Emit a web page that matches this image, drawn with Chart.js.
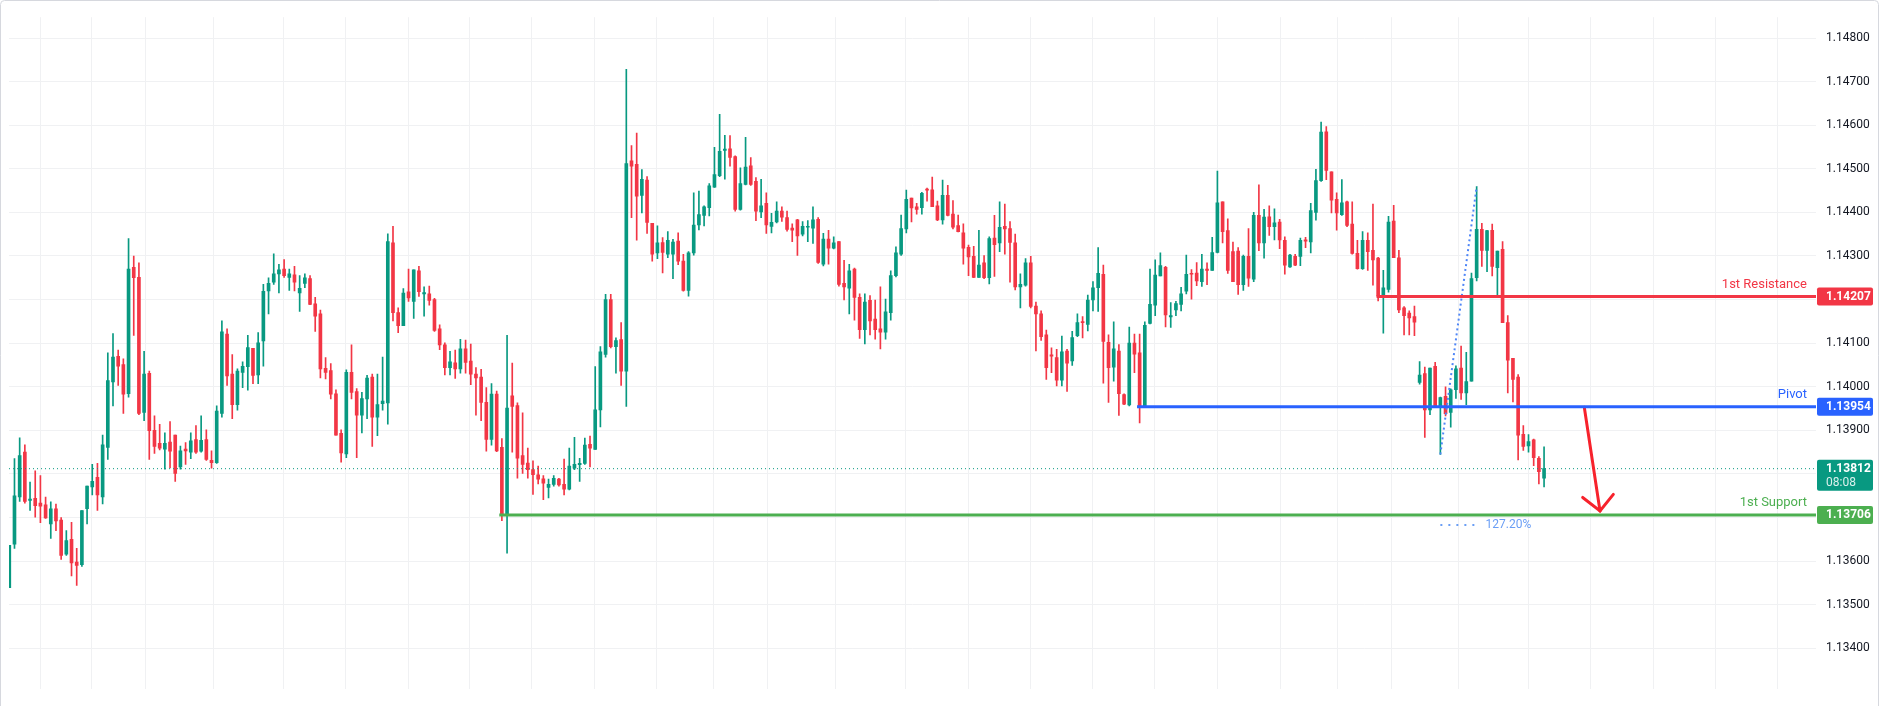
<!DOCTYPE html>
<html><head><meta charset="utf-8">
<script src="https://cdn.jsdelivr.net/npm/chart.js@4.4.1/dist/chart.umd.min.js"></script>
<style>html,body{margin:0;padding:0;background:#fff;overflow:hidden}canvas{display:block}</style>
</head><body><canvas id="c" width="1879" height="706"></canvas>
<script>
// ---- candle data (EUR/USD) ----
const opens=[1.13539,1.13639,1.13747,1.13850,1.13739,1.13744,1.13733,1.13729,1.13685,1.13720,
1.13694,1.13616,1.13650,1.13598,1.13592,1.13720,1.13770,1.13792,1.13747,1.13861,
1.14011,1.14070,1.14051,1.13984,1.14274,1.14251,1.13941,1.14031,1.13900,1.13870,
1.13857,1.13873,1.13889,1.13816,1.13857,1.13850,1.13879,1.13852,1.13879,1.13831,
1.13826,1.13939,1.14121,1.14029,1.13959,1.14033,1.14046,1.14088,1.14027,1.14105,
1.14220,1.14240,1.14259,1.14270,1.14251,1.14257,1.14215,1.14237,1.14248,1.14190,
1.14167,1.14042,1.14037,1.13984,1.13893,1.13846,1.14033,1.13989,1.13935,1.13972,
1.14022,1.13930,1.13961,1.13963,1.14330,1.14170,1.14140,1.14218,1.14196,1.14266,
1.14213,1.14213,1.14200,1.14133,1.14096,1.14044,1.14055,1.14041,1.14087,1.14059,
1.14029,1.14022,1.13964,1.13879,1.13983,1.13861,1.13705,1.13979,1.13957,1.13842,
1.13825,1.13810,1.13798,1.13789,1.13769,1.13776,1.13788,1.13776,1.13765,1.13813,
1.13821,1.13824,1.13868,1.13856,1.13947,1.14074,1.14200,1.14092,1.14108,1.14036,
1.14518,1.14510,1.14439,1.14474,1.14375,1.14307,1.14331,1.14304,1.14304,1.14334,
1.14288,1.14221,1.14307,1.14371,1.14393,1.14411,1.14458,1.14484,1.14542,1.14546,
1.14528,1.14407,1.14464,1.14507,1.14471,1.14401,1.14421,1.14368,1.14378,1.14403,
1.14388,1.14364,1.14383,1.14350,1.14366,1.14364,1.14384,1.14281,1.14339,1.14318,
1.14333,1.14237,1.14226,1.14270,1.14205,1.14131,1.14198,1.14155,1.14133,1.14125,
1.14170,1.14255,1.14304,1.14362,1.14433,1.14413,1.14411,1.14453,1.14452,1.14415,
1.14383,1.14439,1.14396,1.14370,1.14353,1.14320,1.14299,1.14251,1.14284,1.14250,
1.14341,1.14330,1.14368,1.14363,1.14330,1.14229,1.14233,1.14284,1.14185,1.14167,
1.14119,1.14073,1.14067,1.14015,1.14082,1.14059,1.14117,1.14149,1.14143,1.14199,
1.14227,1.14258,1.14102,1.14045,1.14082,1.13982,1.13958,1.14100,1.14078,1.13953,
1.14145,1.14187,1.14254,1.14274,1.14160,1.14176,1.14189,1.14219,1.14260,1.14261,
1.14241,1.14270,1.14267,1.14308,1.14424,1.14358,1.14310,1.14311,1.14234,1.14299,
1.14247,1.14393,1.14330,1.14390,1.14367,1.14378,1.14336,1.14275,1.14299,1.14299,
1.14337,1.14332,1.14400,1.14473,1.14585,1.14493,1.14430,1.14395,1.14424,1.14373,
1.14306,1.14271,1.14336,1.14313,1.14295,1.14208,1.14223,1.14380,1.14296,1.14181,
1.14169,1.14161,1.14010,1.14030,1.13947,1.14047,1.13954,1.13978,1.13941,1.13993,
1.14043,1.13986,1.14013,1.14250,1.14361,1.14313,1.14359,1.14273,1.14315,1.14147,
1.14065,1.14022,1.13891,1.13864,1.13878,1.13836,1.13790];
const highs=[1.13636,1.13835,1.13883,1.13867,1.13781,1.13807,1.13796,1.13747,1.13736,1.13731,
1.13700,1.13670,1.13689,1.13629,1.13716,1.13772,1.13822,1.13824,1.13889,1.14078,
1.14122,1.14084,1.14064,1.14340,1.14300,1.14284,1.14081,1.14036,1.13933,1.13914,
1.13894,1.13920,1.13889,1.13864,1.13872,1.13894,1.13911,1.13933,1.13901,1.13853,
1.13956,1.14151,1.14133,1.14074,1.14041,1.14057,1.14118,1.14088,1.14124,1.14235,
1.14250,1.14305,1.14281,1.14292,1.14270,1.14276,1.14255,1.14259,1.14255,1.14205,
1.14176,1.14067,1.14053,1.13993,1.13901,1.14039,1.14096,1.13996,1.13987,1.14026,
1.14029,1.14029,1.14068,1.14351,1.14368,1.14181,1.14225,1.14270,1.14268,1.14276,
1.14229,1.14231,1.14203,1.14142,1.14101,1.14081,1.14084,1.14109,1.14107,1.14098,
1.14044,1.14040,1.13998,1.14007,1.13990,1.13881,1.14118,1.14054,1.13963,1.13940,
1.13859,1.13830,1.13818,1.13796,1.13788,1.13796,1.13790,1.13834,1.13859,1.13884,
1.13836,1.13882,1.13887,1.14046,1.14092,1.14212,1.14212,1.14112,1.14147,1.14728,
1.14553,1.14582,1.14498,1.14482,1.14375,1.14369,1.14342,1.14356,1.14338,1.14353,
1.14304,1.14310,1.14445,1.14449,1.14415,1.14466,1.14549,1.14625,1.14577,1.14576,
1.14530,1.14502,1.14572,1.14526,1.14480,1.14476,1.14445,1.14398,1.14424,1.14413,
1.14403,1.14374,1.14384,1.14379,1.14381,1.14413,1.14388,1.14352,1.14359,1.14344,
1.14333,1.14290,1.14281,1.14272,1.14213,1.14213,1.14209,1.14199,1.14229,1.14201,
1.14266,1.14321,1.14394,1.14451,1.14433,1.14421,1.14446,1.14456,1.14481,1.14426,
1.14474,1.14462,1.14427,1.14394,1.14374,1.14325,1.14322,1.14359,1.14301,1.14344,
1.14393,1.14424,1.14419,1.14379,1.14350,1.14259,1.14294,1.14299,1.14194,1.14174,
1.14130,1.14089,1.14086,1.14116,1.14086,1.14127,1.14167,1.14161,1.14210,1.14241,
1.14319,1.14279,1.14119,1.14149,1.14097,1.13984,1.14137,1.14121,1.14121,1.14149,
1.14270,1.14291,1.14307,1.14276,1.14193,1.14196,1.14228,1.14302,1.14269,1.14285,
1.14304,1.14284,1.14343,1.14495,1.14424,1.14385,1.14332,1.14319,1.14302,1.14363,
1.14400,1.14463,1.14407,1.14415,1.14408,1.14384,1.14344,1.14304,1.14304,1.14341,
1.14343,1.14421,1.14499,1.14607,1.14597,1.14493,1.14445,1.14475,1.14426,1.14424,
1.14336,1.14356,1.14353,1.14419,1.14297,1.14267,1.14391,1.14416,1.14313,1.14184,
1.14174,1.14185,1.14058,1.14045,1.14043,1.14056,1.13976,1.14000,1.13995,1.14048,
1.14093,1.14079,1.14261,1.14459,1.14375,1.14359,1.14373,1.14311,1.14333,1.14163,
1.14065,1.14028,1.13911,1.13890,1.13880,1.13840,1.13862];
const lows=[1.13539,1.13629,1.13737,1.13733,1.13716,1.13701,1.13688,1.13698,1.13652,1.13670,
1.13604,1.13613,1.13566,1.13544,1.13588,1.13685,1.13752,1.13716,1.13731,1.13833,
1.13956,1.14003,1.13939,1.13976,1.14118,1.13936,1.13922,1.13833,1.13847,1.13855,
1.13811,1.13814,1.13783,1.13811,1.13822,1.13835,1.13847,1.13850,1.13831,1.13813,
1.13824,1.13930,1.14003,1.13927,1.13946,1.13998,1.13992,1.14007,1.14007,1.14047,
1.14167,1.14235,1.14215,1.14251,1.14221,1.14220,1.14173,1.14227,1.14188,1.14127,
1.14020,1.14018,1.13972,1.13889,1.13827,1.13837,1.13972,1.13837,1.13894,1.13927,
1.13863,1.13888,1.13946,1.13914,1.14151,1.14124,1.14140,1.14196,1.14157,1.14207,
1.14162,1.14187,1.14127,1.14085,1.14027,1.14027,1.14019,1.14031,1.14031,1.14005,
1.13935,1.13922,1.13852,1.13866,1.13851,1.13693,1.13618,1.13850,1.13790,1.13801,
1.13790,1.13753,1.13777,1.13741,1.13745,1.13772,1.13772,1.13752,1.13763,1.13810,
1.13783,1.13822,1.13816,1.13856,1.13908,1.14068,1.14089,1.14031,1.14003,1.13955,
1.14388,1.14336,1.14399,1.14352,1.14288,1.14294,1.14261,1.14296,1.14248,1.14280,
1.14219,1.14208,1.14302,1.14360,1.14369,1.14392,1.14457,1.14482,1.14476,1.14506,
1.14403,1.14405,1.14463,1.14462,1.14381,1.14388,1.14352,1.14353,1.14376,1.14379,
1.14357,1.14333,1.14301,1.14346,1.14333,1.14329,1.14283,1.14277,1.14281,1.14316,
1.14231,1.14199,1.14167,1.14153,1.14111,1.14098,1.14119,1.14109,1.14087,1.14109,
1.14153,1.14252,1.14301,1.14353,1.14378,1.14396,1.14396,1.14426,1.14413,1.14381,
1.14373,1.14392,1.14362,1.14355,1.14281,1.14255,1.14250,1.14251,1.14248,1.14236,
1.14253,1.14310,1.14304,1.14240,1.14222,1.14181,1.14231,1.14181,1.14082,1.14106,
1.14017,1.14032,1.14002,1.14002,1.13989,1.14049,1.14115,1.14112,1.14128,1.14174,
1.14173,1.14008,1.13964,1.14013,1.13934,1.13959,1.13956,1.14032,1.13917,1.13953,
1.14144,1.14163,1.14254,1.14137,1.14136,1.14163,1.14174,1.14213,1.14201,1.14232,
1.14230,1.14234,1.14267,1.14307,1.14330,1.14260,1.14241,1.14212,1.14221,1.14230,
1.14241,1.14312,1.14295,1.14347,1.14337,1.14317,1.14258,1.14274,1.14278,1.14278,
1.14319,1.14307,1.14382,1.14471,1.14475,1.14399,1.14359,1.14393,1.14367,1.14304,
1.14270,1.14269,1.14267,1.14233,1.14197,1.14123,1.14217,1.14296,1.14170,1.14119,
1.14119,1.14117,1.14006,1.13884,1.13936,1.13952,1.13845,1.13933,1.13907,1.13973,
1.13971,1.13959,1.14013,1.14243,1.14276,1.14264,1.14254,1.14208,1.14147,1.13986,
1.13965,1.13832,1.13854,1.13850,1.13819,1.13777,1.13770];
const closes=[1.13636,1.13750,1.13842,1.13737,1.13742,1.13727,1.13726,1.13699,1.13720,1.13692,
1.13613,1.13647,1.13596,1.13590,1.13716,1.13772,1.13783,1.13752,1.13867,1.14014,
1.14068,1.14047,1.13983,1.14270,1.14250,1.13939,1.14029,1.13899,1.13863,1.13859,
1.13870,1.13852,1.13801,1.13853,1.13853,1.13876,1.13850,1.13877,1.13833,1.13826,
1.13944,1.14126,1.14025,1.13959,1.14036,1.14047,1.14090,1.14026,1.14101,1.14219,
1.14237,1.14259,1.14268,1.14255,1.14259,1.14240,1.14226,1.14250,1.14189,1.14162,
1.14041,1.14033,1.13983,1.13889,1.13848,1.14033,1.13987,1.13935,1.13973,1.14020,
1.13930,1.13959,1.13967,1.14333,1.14170,1.14140,1.14215,1.14204,1.14268,1.14218,
1.14216,1.14198,1.14129,1.14096,1.14044,1.14057,1.14041,1.14087,1.14056,1.14029,
1.14020,1.13964,1.13879,1.13983,1.13853,1.13705,1.13951,1.13955,1.13836,1.13822,
1.13810,1.13798,1.13788,1.13779,1.13776,1.13790,1.13775,1.13765,1.13818,1.13822,
1.13824,1.13866,1.13859,1.13947,1.14080,1.14200,1.14092,1.14106,1.14036,1.14512,
1.14506,1.14437,1.14476,1.14377,1.14304,1.14330,1.14308,1.14336,1.14332,1.14288,
1.14221,1.14307,1.14371,1.14395,1.14413,1.14461,1.14487,1.14540,1.14545,1.14526,
1.14407,1.14466,1.14504,1.14464,1.14403,1.14415,1.14371,1.14377,1.14403,1.14389,
1.14361,1.14359,1.14346,1.14368,1.14368,1.14383,1.14285,1.14339,1.14318,1.14330,
1.14235,1.14229,1.14266,1.14205,1.14131,1.14194,1.14151,1.14131,1.14125,1.14172,
1.14255,1.14307,1.14363,1.14430,1.14410,1.14407,1.14444,1.14451,1.14413,1.14383,
1.14439,1.14393,1.14366,1.14356,1.14318,1.14298,1.14251,1.14279,1.14250,1.14340,
1.14326,1.14366,1.14362,1.14331,1.14229,1.14235,1.14284,1.14184,1.14167,1.14115,
1.14044,1.14070,1.14015,1.14080,1.14054,1.14113,1.14147,1.14147,1.14199,1.14227,
1.14260,1.14104,1.14044,1.14087,1.13984,1.13960,1.14100,1.14075,1.13953,1.14141,
1.14189,1.14256,1.14278,1.14165,1.14163,1.14191,1.14213,1.14258,1.14258,1.14243,
1.14270,1.14267,1.14308,1.14422,1.14356,1.14267,1.14241,1.14234,1.14299,1.14249,
1.14393,1.14330,1.14389,1.14367,1.14376,1.14337,1.14279,1.14302,1.14279,1.14336,
1.14334,1.14404,1.14473,1.14584,1.14496,1.14428,1.14399,1.14422,1.14370,1.14306,
1.14271,1.14336,1.14310,1.14291,1.14208,1.14227,1.14378,1.14296,1.14176,1.14163,
1.14158,1.14148,1.14027,1.13947,1.14043,1.13954,1.13975,1.13938,1.13993,1.14041,
1.13986,1.14012,1.14248,1.14361,1.14313,1.14358,1.14276,1.14311,1.14147,1.14061,
1.14017,1.13889,1.13863,1.13874,1.13837,1.13805,1.13812];

// ---- axis / annotation values ----
const priceTicks=[1.134,1.135,1.136,1.137,1.138,1.139,1.140,1.141,1.142,1.143,1.144,1.145,1.146,1.147,1.148];
const timeGrid=[11.9,21.8,32.8,47.9,59.8,71.9,83.9,95.8,107.8,119.9,131.8,141.7,152.7,167.8,180.0,191.9,204.0,216.0,227.9,240.0,252.2,262.1,273.1,288.0,300.0,312.0,324.1,336.1,348.1];
const levelNames=['1st Resistance','Pivot','1st Support'];
const levelValues=[1.14207,1.13954,1.13706];
const levelStarts=[264.7,218.5,95.5];
const levelColors=['#F23645','#2962FF','#4CAF50'];
const lastPrice=1.13812;
const countdown='08:08';
const fibX=[277,284];
const fibY=[1.13845,1.14459];
const fibExtX=[277,283.6];
const fibExtValue=1.13683;
const fibExtLabel='127.20%';
const arrowShaftX=[304.76,307.79];
const arrowShaftY=[1.13953,1.13715];
const arrowHeadX=[304.45,307.79,310.36];
const arrowHeadY=[1.13746,1.13715,1.13753];
const X_RANGE=[0.942,349.447];
const Y_RANGE=[1.13307,1.148478];

const UP='#089981', DOWN='#F23645';
const FONT='Roboto, "Liberation Sans", sans-serif';

const idx=opens.map((_,i)=>i+1);
const candleColors=opens.map((o,i)=>closes[i]>=o?UP:DOWN);
const wickData=idx.map((x,i)=>({x:x,y:[lows[i],highs[i]]}));
const bodyData=idx.map((x,i)=>({x:x,y:[opens[i],closes[i]]}));

const lineDs=(pts,color,width,dash,order)=>({type:'line',data:pts,borderColor:color,borderWidth:width,borderDash:dash||[],pointRadius:0,fill:false,tension:0,order:order,borderCapStyle:'butt'});

const datasets=[
  {type:'bar',data:wickData,backgroundColor:candleColors,barThickness:1,grouped:false,order:3,borderWidth:0},
  {type:'bar',data:bodyData,backgroundColor:candleColors,barThickness:3,grouped:false,order:2,borderWidth:0,minBarLength:1},
  lineDs([{x:X_RANGE[0],y:lastPrice},{x:X_RANGE[1],y:lastPrice}],UP,1,[1,3],1),
];
levelValues.forEach((v,k)=>{
  datasets.push(lineDs([{x:levelStarts[k],y:v},{x:X_RANGE[1],y:v}],levelColors[k],3,[],0));
});
datasets.push(lineDs([{x:fibX[0],y:fibY[0]},{x:fibX[1],y:fibY[1]}],'#4f86f7',2,[2,3],0));
datasets.push(lineDs([{x:fibExtX[0],y:fibExtValue},{x:fibExtX[1],y:fibExtValue}],'#6a9ef5',2,[2,6],0));
const arrowShaft=lineDs(arrowShaftX.map((x,i)=>({x:x,y:arrowShaftY[i]})),'#F7222C',3,[],0);
arrowShaft.borderCapStyle='round';
const arrowHead=lineDs(arrowHeadX.map((x,i)=>({x:x,y:arrowHeadY[i]})),'#F7222C',3,[],0);
arrowHead.borderCapStyle='round'; arrowHead.borderJoinStyle='miter';
datasets.push(arrowShaft,arrowHead);

function rbox(ctx,x,y,w,h,r,color){ctx.beginPath();ctx.roundRect(x,y,w,h,r);ctx.fillStyle=color;ctx.fill();}

const overlay={
  id:'overlay',
  beforeDraw(chart){const c=chart.ctx;c.save();c.fillStyle='#fff';c.fillRect(0,0,chart.width,chart.height);c.restore();},
  afterDatasetsDraw(chart){
    const c=chart.ctx, ya=chart.scales.y, xa=chart.scales.x, ca=chart.chartArea;
    c.save();
    c.font='13px '+FONT; c.textAlign='right'; c.textBaseline='middle';
    levelValues.forEach((v,k)=>{const y=ya.getPixelForValue(v);c.fillStyle=levelColors[k];c.fillText(levelNames[k],ca.right-9,y-12);});
    c.font='12px '+FONT; c.textAlign='left'; c.fillStyle='#6a9ef5';
    c.fillText(fibExtLabel,xa.getPixelForValue(fibExtX[1])+11,ya.getPixelForValue(fibExtValue));
    const bx=ca.right+1, bw=56, tx=ca.right+10;
    c.font='bold 12px '+FONT; c.textAlign='left'; c.textBaseline='middle';
    levelValues.forEach((v,k)=>{const y=ya.getPixelForValue(v);rbox(c,bx,y-9,bw,18,2,levelColors[k]);c.fillStyle='#fff';c.fillText(v.toFixed(5),tx,y+0.5);});
    const yl=ya.getPixelForValue(lastPrice);
    rbox(c,bx,yl-9,bw,31,2,UP);
    c.fillStyle='#fff';c.fillText(lastPrice.toFixed(5),tx,yl+0.5);
    c.font='12px '+FONT;c.fillStyle='rgba(255,255,255,0.85)';c.fillText(countdown,tx,yl+14);
    c.restore();
  },
  afterDraw(chart){const c=chart.ctx;c.save();c.strokeStyle='#d6d8de';c.lineWidth=1;c.beginPath();c.roundRect(0.5,0.5,chart.width-1,chart.height+20,4);c.stroke();c.restore();}
};

new Chart(document.getElementById('c'),{
  type:'bar',
  data:{datasets:datasets},
  options:{
    responsive:false,animation:false,devicePixelRatio:1,
    layout:{padding:{top:10,left:9,right:0,bottom:0}},
    plugins:{legend:{display:false},tooltip:{enabled:false}},
    scales:{
      x:{type:'linear',min:X_RANGE[0],max:X_RANGE[1],offset:false,
         afterBuildTicks:s=>{s.ticks=timeGrid.map(v=>({value:v}));},
         afterFit:s=>{s.height=0;},
         ticks:{display:false},grid:{color:'#f0f1f3',drawTicks:false,lineWidth:1},border:{display:false}},
      y:{type:'linear',position:'right',min:Y_RANGE[0],max:Y_RANGE[1],
         afterBuildTicks:s=>{s.ticks=priceTicks.map(v=>({value:v}));},
         afterFit:s=>{s.width=63;},
         ticks:{padding:10,color:'#131722',font:{family:FONT,size:12},callback:v=>Number(v).toFixed(5)},
         grid:{color:'#f0f1f3',drawTicks:false,lineWidth:1},border:{display:false}}
    }
  },
  plugins:[overlay]
});
</script>
</body></html>
